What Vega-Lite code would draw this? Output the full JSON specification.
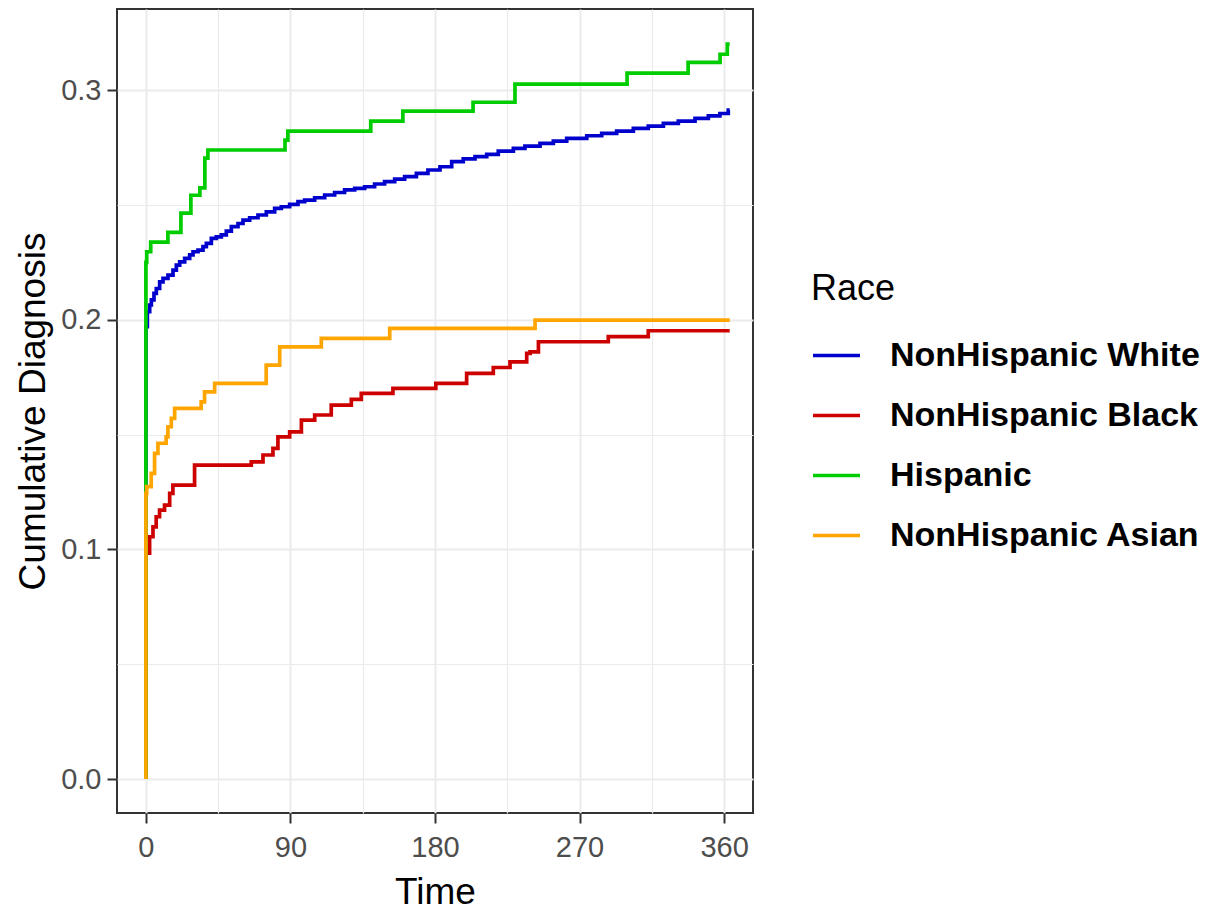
{
  "$schema": "https://vega.github.io/schema/vega-lite/v6.json",
  "autosize": {"type": "none"},
  "width": 636,
  "height": 804,
  "padding": {"left": 117, "top": 9, "right": 458, "bottom": 101},
  "background": "white",
  "config": {
    "font": "Liberation Sans",
    "view": {"stroke": "#333333", "strokeWidth": 2},
    "axis": {
      "domain": false,
      "grid": true,
      "gridColor": "#EBEBEB",
      "tickColor": "#333333",
      "tickWidth": 2,
      "tickSize": 10,
      "labelFont": "Liberation Sans",
      "labelFontSize": 29,
      "labelColor": "#4D4D4D",
      "labelPadding": 6,
      "titleFont": "Liberation Sans",
      "titleFontSize": 37,
      "titleFontWeight": "normal",
      "titleColor": "#000000"
    }
  },
  "data": {
    "values": [
      {"Race": "NonHispanic White", "time": 0, "cum": 0},
      {"Race": "NonHispanic White", "time": 0, "cum": 0.197},
      {"Race": "NonHispanic White", "time": 0.9, "cum": 0.2035},
      {"Race": "NonHispanic White", "time": 2.35, "cum": 0.2064},
      {"Race": "NonHispanic White", "time": 3.4, "cum": 0.2086},
      {"Race": "NonHispanic White", "time": 5.03, "cum": 0.2115},
      {"Race": "NonHispanic White", "time": 6.48, "cum": 0.2136},
      {"Race": "NonHispanic White", "time": 8.56, "cum": 0.2165},
      {"Race": "NonHispanic White", "time": 10.65, "cum": 0.218},
      {"Race": "NonHispanic White", "time": 13.75, "cum": 0.2194},
      {"Race": "NonHispanic White", "time": 16.87, "cum": 0.2216},
      {"Race": "NonHispanic White", "time": 18.95, "cum": 0.2238},
      {"Race": "NonHispanic White", "time": 21.03, "cum": 0.2252},
      {"Race": "NonHispanic White", "time": 24.14, "cum": 0.2267},
      {"Race": "NonHispanic White", "time": 27.25, "cum": 0.2282},
      {"Race": "NonHispanic White", "time": 29.33, "cum": 0.2296},
      {"Race": "NonHispanic White", "time": 32.44, "cum": 0.2303},
      {"Race": "NonHispanic White", "time": 35.55, "cum": 0.2318},
      {"Race": "NonHispanic White", "time": 37.63, "cum": 0.2332},
      {"Race": "NonHispanic White", "time": 40.74, "cum": 0.2354},
      {"Race": "NonHispanic White", "time": 43.85, "cum": 0.2361},
      {"Race": "NonHispanic White", "time": 46.96, "cum": 0.2369},
      {"Race": "NonHispanic White", "time": 50.07, "cum": 0.2386},
      {"Race": "NonHispanic White", "time": 53.19, "cum": 0.2405},
      {"Race": "NonHispanic White", "time": 57.34, "cum": 0.2419},
      {"Race": "NonHispanic White", "time": 60.45, "cum": 0.2434},
      {"Race": "NonHispanic White", "time": 64.6, "cum": 0.2444},
      {"Race": "NonHispanic White", "time": 69.79, "cum": 0.2456},
      {"Race": "NonHispanic White", "time": 74.97, "cum": 0.247},
      {"Race": "NonHispanic White", "time": 80.16, "cum": 0.2485},
      {"Race": "NonHispanic White", "time": 84.31, "cum": 0.2492},
      {"Race": "NonHispanic White", "time": 89.5, "cum": 0.2502},
      {"Race": "NonHispanic White", "time": 94.69, "cum": 0.2514},
      {"Race": "NonHispanic White", "time": 98.84, "cum": 0.2521},
      {"Race": "NonHispanic White", "time": 105.07, "cum": 0.2531},
      {"Race": "NonHispanic White", "time": 111.3, "cum": 0.2543},
      {"Race": "NonHispanic White", "time": 117.5, "cum": 0.2554},
      {"Race": "NonHispanic White", "time": 123.7, "cum": 0.2565},
      {"Race": "NonHispanic White", "time": 129.99, "cum": 0.2572},
      {"Race": "NonHispanic White", "time": 136.2, "cum": 0.2579},
      {"Race": "NonHispanic White", "time": 142.4, "cum": 0.2591},
      {"Race": "NonHispanic White", "time": 148.6, "cum": 0.2601},
      {"Race": "NonHispanic White", "time": 154.9, "cum": 0.2612},
      {"Race": "NonHispanic White", "time": 161.1, "cum": 0.2623},
      {"Race": "NonHispanic White", "time": 168.4, "cum": 0.2637},
      {"Race": "NonHispanic White", "time": 175.6, "cum": 0.2652},
      {"Race": "NonHispanic White", "time": 183.1, "cum": 0.2666},
      {"Race": "NonHispanic White", "time": 190.4, "cum": 0.2688},
      {"Race": "NonHispanic White", "time": 197.6, "cum": 0.27},
      {"Race": "NonHispanic White", "time": 204.9, "cum": 0.271},
      {"Race": "NonHispanic White", "time": 212.2, "cum": 0.272},
      {"Race": "NonHispanic White", "time": 219.4, "cum": 0.2734},
      {"Race": "NonHispanic White", "time": 228.8, "cum": 0.2746},
      {"Race": "NonHispanic White", "time": 236.0, "cum": 0.2756},
      {"Race": "NonHispanic White", "time": 245.4, "cum": 0.2768},
      {"Race": "NonHispanic White", "time": 253.7, "cum": 0.2778},
      {"Race": "NonHispanic White", "time": 262.0, "cum": 0.279},
      {"Race": "NonHispanic White", "time": 274.5, "cum": 0.2801},
      {"Race": "NonHispanic White", "time": 283.8, "cum": 0.2811},
      {"Race": "NonHispanic White", "time": 293.1, "cum": 0.2821},
      {"Race": "NonHispanic White", "time": 303.5, "cum": 0.2833},
      {"Race": "NonHispanic White", "time": 312.8, "cum": 0.2843},
      {"Race": "NonHispanic White", "time": 322.2, "cum": 0.2855},
      {"Race": "NonHispanic White", "time": 331.5, "cum": 0.2865},
      {"Race": "NonHispanic White", "time": 341.9, "cum": 0.2877},
      {"Race": "NonHispanic White", "time": 350.2, "cum": 0.2888},
      {"Race": "NonHispanic White", "time": 357.4, "cum": 0.2898},
      {"Race": "NonHispanic White", "time": 362.6, "cum": 0.2913},
      {"Race": "NonHispanic White", "time": 363.5, "cum": 0.2913},

      {"Race": "NonHispanic Black", "time": 0, "cum": 0},
      {"Race": "NonHispanic Black", "time": 0, "cum": 0.0983},
      {"Race": "NonHispanic Black", "time": 2.3, "cum": 0.1055},
      {"Race": "NonHispanic Black", "time": 4.4, "cum": 0.1098},
      {"Race": "NonHispanic Black", "time": 6.4, "cum": 0.1142},
      {"Race": "NonHispanic Black", "time": 8.5, "cum": 0.1171},
      {"Race": "NonHispanic Black", "time": 11.6, "cum": 0.1193},
      {"Race": "NonHispanic Black", "time": 14.8, "cum": 0.1244},
      {"Race": "NonHispanic Black", "time": 16.8, "cum": 0.128},
      {"Race": "NonHispanic Black", "time": 30.3, "cum": 0.1367},
      {"Race": "NonHispanic Black", "time": 65.6, "cum": 0.1381},
      {"Race": "NonHispanic Black", "time": 72.9, "cum": 0.1411},
      {"Race": "NonHispanic Black", "time": 79.1, "cum": 0.144},
      {"Race": "NonHispanic Black", "time": 82.2, "cum": 0.149},
      {"Race": "NonHispanic Black", "time": 89.5, "cum": 0.1512},
      {"Race": "NonHispanic Black", "time": 96.8, "cum": 0.1563},
      {"Race": "NonHispanic Black", "time": 105.1, "cum": 0.1585},
      {"Race": "NonHispanic Black", "time": 115.4, "cum": 0.1628},
      {"Race": "NonHispanic Black", "time": 127.9, "cum": 0.1653},
      {"Race": "NonHispanic Black", "time": 134.1, "cum": 0.1679},
      {"Race": "NonHispanic Black", "time": 153.8, "cum": 0.1701},
      {"Race": "NonHispanic Black", "time": 180.5, "cum": 0.1723},
      {"Race": "NonHispanic Black", "time": 199.7, "cum": 0.1766},
      {"Race": "NonHispanic Black", "time": 216.3, "cum": 0.1792},
      {"Race": "NonHispanic Black", "time": 226.7, "cum": 0.1816},
      {"Race": "NonHispanic Black", "time": 237.1, "cum": 0.1853},
      {"Race": "NonHispanic Black", "time": 239.2, "cum": 0.186},
      {"Race": "NonHispanic Black", "time": 244.4, "cum": 0.1904},
      {"Race": "NonHispanic Black", "time": 287.9, "cum": 0.1926},
      {"Race": "NonHispanic Black", "time": 312.8, "cum": 0.1952},
      {"Race": "NonHispanic Black", "time": 363.5, "cum": 0.1952},

      {"Race": "Hispanic", "time": 0, "cum": 0},
      {"Race": "Hispanic", "time": 0, "cum": 0.225},
      {"Race": "Hispanic", "time": 0.5, "cum": 0.2296},
      {"Race": "Hispanic", "time": 3, "cum": 0.2338},
      {"Race": "Hispanic", "time": 13.7, "cum": 0.238},
      {"Race": "Hispanic", "time": 21.8, "cum": 0.2464},
      {"Race": "Hispanic", "time": 28, "cum": 0.2542},
      {"Race": "Hispanic", "time": 33.6, "cum": 0.2574},
      {"Race": "Hispanic", "time": 36.7, "cum": 0.2704},
      {"Race": "Hispanic", "time": 38.6, "cum": 0.2739},
      {"Race": "Hispanic", "time": 86.6, "cum": 0.2782},
      {"Race": "Hispanic", "time": 88.4, "cum": 0.2821},
      {"Race": "Hispanic", "time": 140, "cum": 0.2865},
      {"Race": "Hispanic", "time": 160, "cum": 0.2908},
      {"Race": "Hispanic", "time": 203.7, "cum": 0.2947},
      {"Race": "Hispanic", "time": 229.8, "cum": 0.3026},
      {"Race": "Hispanic", "time": 299.6, "cum": 0.3074},
      {"Race": "Hispanic", "time": 337.6, "cum": 0.3121},
      {"Race": "Hispanic", "time": 357.5, "cum": 0.3156},
      {"Race": "Hispanic", "time": 362, "cum": 0.32},
      {"Race": "Hispanic", "time": 363.5, "cum": 0.32},

      {"Race": "NonHispanic Asian", "time": 0, "cum": 0},
      {"Race": "NonHispanic Asian", "time": 0, "cum": 0.1244},
      {"Race": "NonHispanic Asian", "time": 0.5, "cum": 0.1273},
      {"Race": "NonHispanic Asian", "time": 3.3, "cum": 0.1331},
      {"Race": "NonHispanic Asian", "time": 5.4, "cum": 0.1418},
      {"Race": "NonHispanic Asian", "time": 7.5, "cum": 0.1462},
      {"Race": "NonHispanic Asian", "time": 12.6, "cum": 0.149},
      {"Race": "NonHispanic Asian", "time": 13.7, "cum": 0.1534},
      {"Race": "NonHispanic Asian", "time": 15.8, "cum": 0.157},
      {"Race": "NonHispanic Asian", "time": 17.9, "cum": 0.1614},
      {"Race": "NonHispanic Asian", "time": 34.4, "cum": 0.1642},
      {"Race": "NonHispanic Asian", "time": 36.5, "cum": 0.1686},
      {"Race": "NonHispanic Asian", "time": 42.8, "cum": 0.1723},
      {"Race": "NonHispanic Asian", "time": 74.9, "cum": 0.1802},
      {"Race": "NonHispanic Asian", "time": 83.3, "cum": 0.1882},
      {"Race": "NonHispanic Asian", "time": 109.2, "cum": 0.1919},
      {"Race": "NonHispanic Asian", "time": 151.8, "cum": 0.1962},
      {"Race": "NonHispanic Asian", "time": 242.3, "cum": 0.1998},
      {"Race": "NonHispanic Asian", "time": 363.5, "cum": 0.1998}
    ]
  },
  "mark": {"type": "line", "interpolate": "step-after", "strokeWidth": 3.7, "strokeCap": "butt"},
  "encoding": {
    "x": {
      "field": "time",
      "type": "quantitative",
      "scale": {"domain": [-18, 378], "nice": false, "zero": false},
      "axis": {
        "title": "Time",
        "values": [0, 45, 90, 135, 180, 225, 270, 315, 360],
        "labelExpr": "datum.value % 90 === 0 ? datum.label : ''",
        "tickOpacity": {"condition": {"test": "datum.value % 90 === 0", "value": 1}, "value": 0},
        "gridWidth": {"condition": {"test": "datum.value % 90 === 0", "value": 2}, "value": 1.2},
        "labelPadding": 10,
        "titlePadding": 12
      }
    },
    "y": {
      "field": "cum",
      "type": "quantitative",
      "scale": {"domain": [-0.0148, 0.3353], "nice": false, "zero": false},
      "axis": {
        "title": "Cumulative Diagnosis",
        "values": [0, 0.05, 0.1, 0.15, 0.2, 0.25, 0.3],
        "format": ".1f",
        "labelExpr": "round(datum.value * 20) % 2 === 0 ? datum.label : ''",
        "tickOpacity": {"condition": {"test": "round(datum.value * 20) % 2 === 0", "value": 1}, "value": 0},
        "gridWidth": {"condition": {"test": "round(datum.value * 20) % 2 === 0", "value": 2}, "value": 1.2},
        "titlePadding": 8
      }
    },
    "color": {
      "field": "Race",
      "type": "nominal",
      "scale": {
        "domain": ["NonHispanic White", "NonHispanic Black", "Hispanic", "NonHispanic Asian"],
        "range": ["#0000CD", "#CD0000", "#00CD00", "#FFA500"]
      },
      "legend": {
        "orient": "none",
        "legendX": 694,
        "legendY": 263,
        "title": "Race",
        "titleFontSize": 36,
        "titleFontWeight": "normal",
        "titleColor": "#000000",
        "titlePadding": 22,
        "labelFontSize": 34,
        "labelFontWeight": "bold",
        "labelColor": "#000000",
        "labelLimit": 0,
        "labelOffset": 28,
        "symbolType": "stroke",
        "symbolSize": 2209,
        "symbolStrokeWidth": 3.7,
        "rowPadding": 17
      }
    }
  }
}
